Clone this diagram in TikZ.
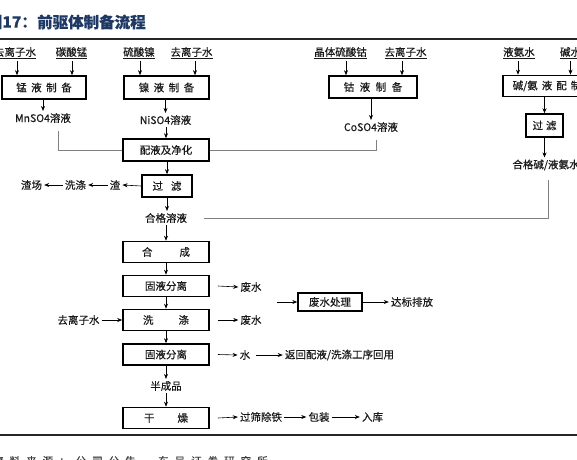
\documentclass[tikz,border=0pt]{standalone}
\usepackage{fontspec}
\setmainfont{Noto Sans CJK SC}[FakeBold=0.35]
\usetikzlibrary{arrows.meta}
\definecolor{txt}{RGB}{25,25,25}
\definecolor{conn}{RGB}{128,128,128}
\definecolor{ttl}{RGB}{31,56,100}
\begin{document}
\begin{tikzpicture}[x=1pt,y=-1pt,
  box/.style={draw=black,line width=1.6pt,inner sep=0pt,minimum height=21pt,font=\fontsize{10.5}{12}\selectfont,text=txt},
  lbl/.style={inner sep=2pt,font=\fontsize{10.5}{12}\selectfont,text=txt},
  arr/.style={-{Stealth[length=5pt,width=4pt]},line width=0.6pt,black},
  gline/.style={conn,line width=0.8pt}]
\useasboundingbox (0,0) rectangle (577,459);
\clip (0,0) rectangle (577,459);
% title and rules
\node[anchor=east,inner sep=0pt,font=\fontsize{15.5}{18}\selectfont\bfseries,text=ttl] (ta) at (37,22) {图17：};
\node[anchor=west,inner sep=0pt,font=\fontsize{15.5}{18}\selectfont\bfseries,text=ttl] (tb) at (37,22) {前驱体制备流程};
\draw[line width=1.5pt,black!85] (0,39) -- (577,39);
\draw[line width=1.5pt,black!85] (0,435) -- (577,435);
\node[anchor=west,inner sep=0pt,font=\fontsize{10.5}{12}\selectfont,text=txt!85] (src) at (-7,461)
  {资\hspace{6pt}料\hspace{6pt}来\hspace{6pt}源\hspace{6pt}：\hspace{6pt}公\hspace{6pt}司\hspace{6pt}公\hspace{6pt}告\hspace{6pt}，\hspace{6pt}东\hspace{6pt}吴\hspace{6pt}证\hspace{6pt}券\hspace{6pt}研\hspace{6pt}究\hspace{6pt}所};
% top labels
\node[lbl] (l1) at (15,53) {\underline{去离子水}};
\node[lbl] (l2) at (71.5,53) {\underline{碳酸锰}};
\node[lbl] (l3) at (139,53) {\underline{硫酸镍}};
\node[lbl] (l4) at (191.5,53) {\underline{去离子水}};
\node[lbl] (l5) at (340.5,53) {\underline{晶体硫酸钴}};
\node[lbl] (l6) at (405.5,53) {\underline{去离子水}};
\node[lbl] (l7) at (519,53) {\underline{液氨水}};
\node[lbl] (l8) at (570.5,53) {\underline{碱水}};
% first row boxes
\node[box,minimum width=84pt,minimum height=23pt] (b1) at (44,87.5) {锰\hspace{4.5pt}液\hspace{4.5pt}制\hspace{4.5pt}备};
\node[box,minimum width=85pt,minimum height=23pt] (b2) at (166.5,87.5) {镍\hspace{4.5pt}液\hspace{4.5pt}制\hspace{4.5pt}备};
\node[box,minimum width=88pt,minimum height=22pt] (b3) at (373,87) {钴\hspace{5.5pt}液\hspace{5.5pt}制\hspace{5.5pt}备};
\node[box,minimum width=88pt,minimum height=21pt] (b4) at (547,86) {碱/氨\hspace{4pt}液\hspace{4pt}配\hspace{4pt}制};
\node[box,minimum width=37pt,minimum height=23pt] (b5) at (544.5,125.5) {过\hspace{3pt}滤};
\draw[arr] ([xshift=2pt]l1.south) -- ([xshift=2pt]l1.south |- b1.north);
\draw[arr] ([xshift=0.5pt]l2.south) -- ([xshift=0.5pt]l2.south |- b1.north);
\draw[arr] ([xshift=1pt]l3.south) -- ([xshift=1pt]l3.south |- b2.north);
\draw[arr] ([xshift=3.5pt]l4.south) -- ([xshift=3.5pt]l4.south |- b2.north);
\draw[arr] ([xshift=5.5pt]l5.south) -- ([xshift=5.5pt]l5.south |- b3.north);
\draw[arr] ([xshift=-3.5pt]l6.south) -- ([xshift=-3.5pt]l6.south |- b3.north);
\draw[arr] ([xshift=-1pt]l7.south) -- ([xshift=-1pt]l7.south |- b4.north);
\draw[arr] (l8.south) -- (l8.south |- b4.north);
% solutions
\node[lbl] (t1) at (43,118) {MnSO4溶液};
\node[lbl] (t2) at (165.5,120) {NiSO4溶液};
\node[lbl] (t3) at (371,127) {CoSO4溶液};
\node[lbl] (t5) at (546,165) {合格碱/液氨水};
\draw[arr] (b1.south -| t1) -- (t1.north);
\draw[arr] (b2.south -| t2) -- (t2.north);
\draw[arr] (b3.south -| t3) -- (t3.north);
\draw[arr] (b4.south -| b5) -- (b5.north);
\draw[arr] (b5.south) -- (b5.south |- t5.north);
% main column
\node[box,minimum width=86pt,minimum height=22pt] (p) at (166,150) {配液及净化};
\node[box,minimum width=50pt,minimum height=22pt] (f) at (167,186) {过\hspace{8pt}滤};
\node[lbl] (z) at (115,185) {渣};
\node[lbl] (w1) at (75.5,185) {洗涤};
\node[lbl] (zc) at (31.5,185) {渣场};
\node[lbl] (h) at (166,218) {合格溶液};
\node[box,minimum width=86pt] (s1) at (166,252) {合\hspace{27pt}成};
\node[box,minimum width=86pt] (s2) at (166,286) {固液分离};
\node[box,minimum width=86pt] (s3) at (166,320) {洗\hspace{25pt}涤};
\node[box,minimum width=86pt] (s4) at (166,354.5) {固液分离};
\node[lbl] (bp) at (166,386) {半成品};
\node[box,minimum width=86pt] (s5) at (166,418) {干\hspace{23pt}燥};
\draw[arr] (t2.south -| p) -- (p.north);
\draw[arr] (p.south -| f.north) -- (f.north);
\draw[arr] (f.west) -- (z.east);
\draw[arr] (z.west) -- (w1.east);
\draw[arr] (w1.west) -- (zc.east);
\draw[arr] (f.south) -- (f.south |- h.north);
\draw[arr] (h.south -| s1) -- (s1.north);
\draw[arr] (s1) -- (s2);
\draw[arr] (s2) -- (s3);
\draw[arr] (s3) -- (s4);
\draw[arr] (s4.south) -- (bp.north);
\draw[arr] (bp.south) -- (s5.north);
% grey collecting lines
\coordinate (m0) at (58,131);
\coordinate (c0) at (376,140);
\coordinate (k0) at (548,180);
\coordinate (k1) at (204,218);
\draw[gline] (m0) |- (p.west);
\draw[gline] (c0) |- (p.east);
\draw[gline] (k0) |- (k1);
% left input
\node[lbl] (di) at (78.5,320) {去离子水};
\draw[arr] (di.east) -- (s3.west);
% right side
\node[lbl] (ww1) at (251,287) {废水};
\node[lbl] (ww2) at (251,320) {废水};
\node[lbl] (wa) at (245,355) {水};
\node[lbl] (rt) at (339.5,355) {返回配液/洗涤工序回用};
\node[box,line width=1.4pt,minimum width=64pt,minimum height=18pt] (wt) at (330,302) {废水处理};
\node[lbl] (db) at (412,302) {达标排放};
\node[lbl] (gs) at (261,417) {过筛除铁};
\node[lbl] (bz) at (319,417) {包装};
\node[lbl] (rk) at (372.5,417) {入库};
\coordinate (wa0) at (277,302);
\draw[arr] ([xshift=8pt]s2.east) -- (ww1.west);
\draw[arr] ([xshift=8pt]s3.east) -- (ww2.west);
\draw[arr] ([xshift=8pt]s4.east) -- (wa.west);
\draw[arr,shorten <=4pt] (wa.east) -- (rt.west);
\draw[arr] (wa0) -- (wt.west);
\draw[arr] (wt.east) -- (db.west);
\draw[arr] ([xshift=8pt]s5.east) -- (gs.west);
\draw[arr] (gs.east) -- (bz.west);
\draw[arr] (bz.east) -- (rk.west);
\end{tikzpicture}
\end{document}
